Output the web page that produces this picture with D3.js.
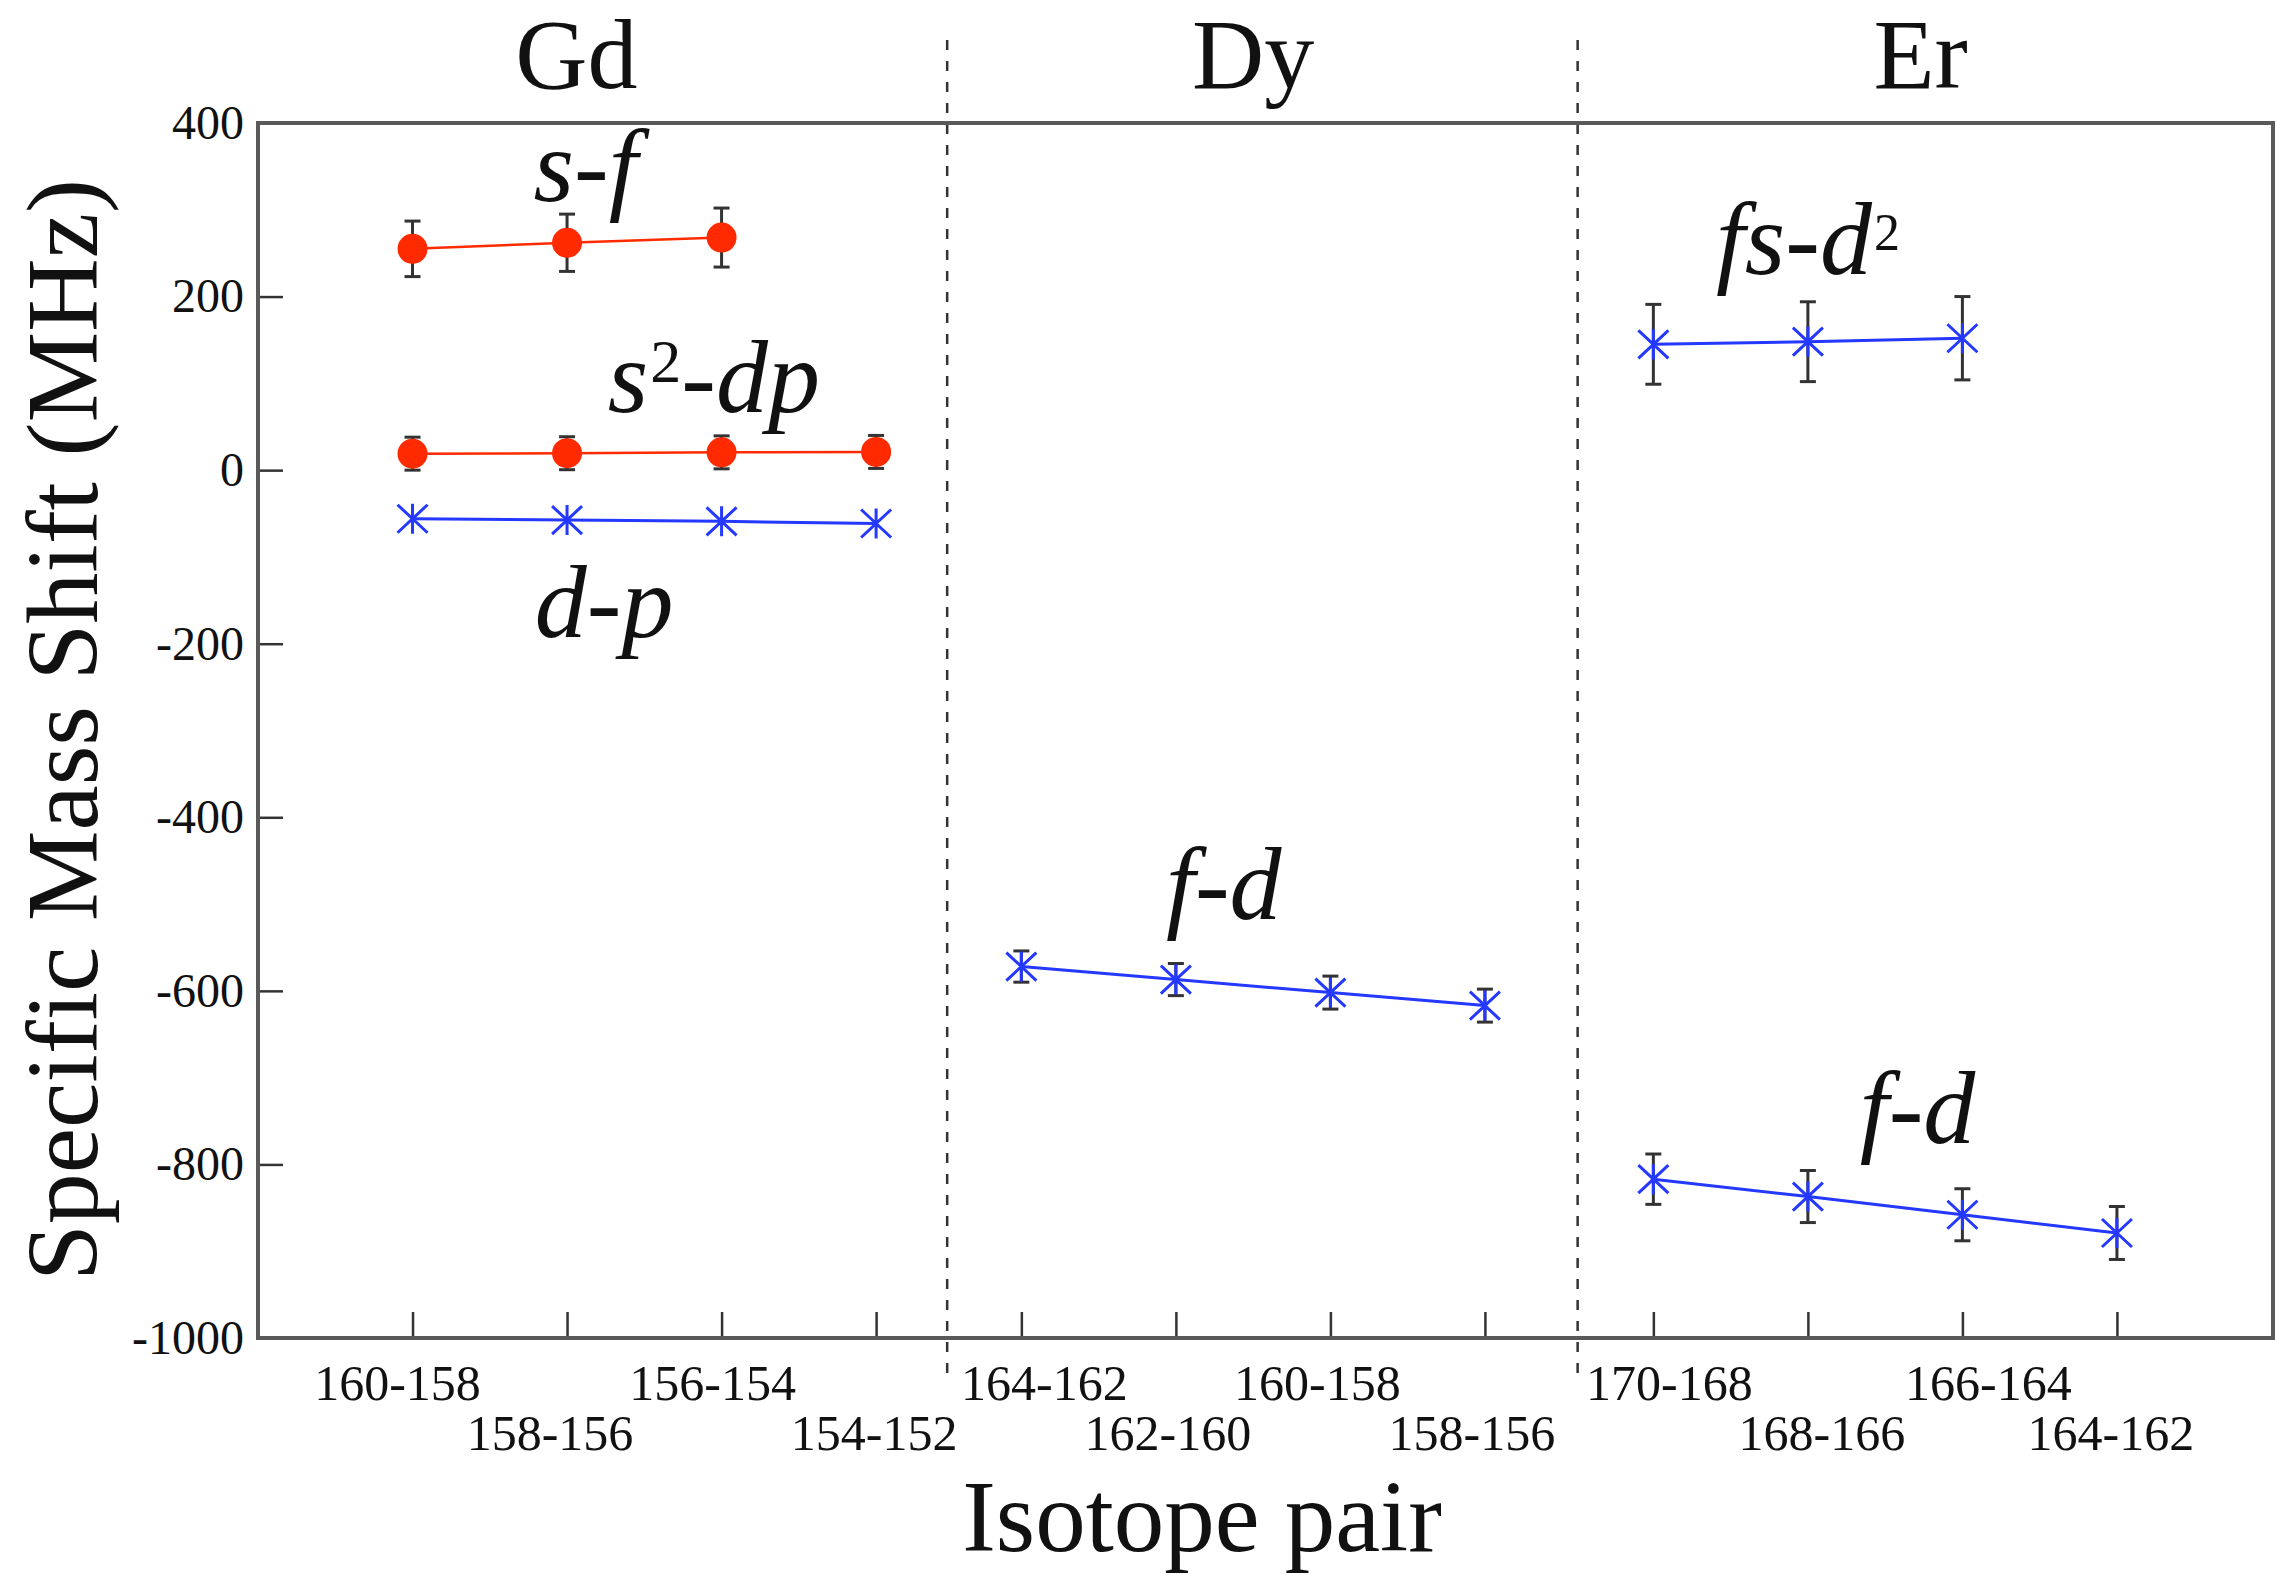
<!DOCTYPE html>
<html><head><meta charset="utf-8">
<script src="https://cdn.jsdelivr.net/npm/d3@7"></script>
<style>
html,body{margin:0;padding:0;background:#fff;}
svg text{font-family:"Liberation Serif","Times New Roman",serif;fill:#111;}
</style></head><body>
<svg id="chart" width="2277" height="1574"></svg>
<script>
// ---------------- data ----------------
const elements = ["Gd", "Dy", "Er"];
const elementX = [2.06, 6.44, 10.76];           // label centres, x data units
const gdPairs = ["160-158", "158-156", "156-154", "154-152"];
const dyPairs = ["164-162", "162-160", "160-158", "158-156"];
const erPairs = ["170-168", "168-166", "166-164", "164-162"];
const gdX = [1, 2, 3, 4];
const dyX = [4.94, 5.94, 6.94, 7.94];
const erX = [9.03, 10.03, 11.03, 12.03];
const dividerX = [4.46, 8.54];
const yTicks = [400, 200, 0, -200, -400, -600, -800, -1000];

const gdSF = [255, 262, 268];            const gdSFErr = [32, 33, 34];
const gdS2DP = [19, 19.5, 20.5, 21];     const gdS2DPErr = [19, 19, 19, 19];
const gdDP = [-56, -57.5, -59, -61.5];
const dyFD = [-572, -587, -602, -617];   const dyFDErr = [18, 18.5, 19, 19];
const erFSD2 = [145, 148, 152];          const erFSD2Err = [46, 46, 48];
const erFD = [-817, -837, -858, -879];   const erFDErr = [29, 30, 30, 30.5];

// ---------------- layout ----------------
const M = {left: 258, right: 2273, top: 123, bottom: 1338};
const RED = "#ff2a00", BLUE = "#2438ff";
const svg = d3.select("#chart");

const x = d3.scaleLinear().domain([0, 13.04]).range([M.left, M.right]);
const y = d3.scaleLinear().domain([-1000, 400]).range([M.bottom, M.top]);

// dashed dividers
svg.selectAll("line.div").data(dividerX).enter().append("line")
  .attr("x1", d => x(d)).attr("x2", d => x(d))
  .attr("y1", 40).attr("y2", 1382)
  .attr("stroke", "#333").attr("stroke-width", 2.5)
  .attr("stroke-dasharray", "10,11");

// y axis
const yAxis = d3.axisLeft(y).tickValues(yTicks).tickSize(-25).tickPadding(14)
  .tickFormat(d => String(d));
const gy = svg.append("g").attr("transform", `translate(${M.left},0)`).call(yAxis);
gy.select(".domain").remove();
gy.selectAll(".tick line").attr("stroke", "#333").attr("stroke-width", 2.5);
gy.selectAll(".tick text").attr("font-size", 48).attr("fill", "#111")
  .style("font-family", "'Liberation Serif', serif");

// x axis (ticks only)
const allX = gdX.concat(dyX, erX);
const allPairs = gdPairs.concat(dyPairs, erPairs);
const xAxis = d3.axisBottom(x).tickValues(allX).tickSize(-26).tickFormat("");
const gx = svg.append("g").attr("transform", `translate(0,${M.bottom})`).call(xAxis);
gx.select(".domain").remove();
gx.selectAll(".tick text").remove();
gx.selectAll(".tick line").attr("stroke", "#333").attr("stroke-width", 2.5);

// staggered tick labels
const labelNudge = [-15, -17, -9, -2, 23, -8, -13, -13, 16, 14, 26, -6];
const rowBase = [1400, 1450];
svg.selectAll("text.pair").data(allPairs).enter().append("text")
  .attr("x", (d, i) => x(allX[i]) + labelNudge[i])
  .attr("y", (d, i) => rowBase[i % 2])
  .attr("text-anchor", "middle").attr("font-size", 50)
  .text(d => d);

// frame
svg.append("rect").attr("x", M.left).attr("y", M.top)
  .attr("width", M.right - M.left).attr("height", M.bottom - M.top)
  .attr("fill", "none").attr("stroke", "#5a5a5a").attr("stroke-width", 4);

// element labels
svg.selectAll("text.el").data(elements).enter().append("text")
  .attr("x", (d, i) => x(elementX[i])).attr("y", 88)
  .attr("text-anchor", "middle").attr("font-size", 100).text(d => d);

// axis titles
svg.append("text").attr("x", 1202).attr("y", 1551).attr("text-anchor", "middle")
  .attr("font-size", 101).text("Isotope pair");
svg.append("text").attr("transform", "translate(97,730) rotate(-90)")
  .attr("text-anchor", "middle").attr("font-size", 102).text("Specific Mass Shift (MHz)");

// series
const series = [
  {xs: gdX.slice(0, 3), ys: gdSF, err: gdSFErr, color: RED, marker: "circle", lw: 2.5},
  {xs: gdX, ys: gdS2DP, err: gdS2DPErr, color: RED, marker: "circle", lw: 2.5},
  {xs: gdX, ys: gdDP, err: null, color: BLUE, marker: "star", lw: 3},
  {xs: dyX, ys: dyFD, err: dyFDErr, color: BLUE, marker: "star", lw: 3},
  {xs: erX.slice(0, 3), ys: erFSD2, err: erFSD2Err, color: BLUE, marker: "star", lw: 3},
  {xs: erX, ys: erFD, err: erFDErr, color: BLUE, marker: "star", lw: 3}
];
const line = d3.line().x(d => x(d[0])).y(d => y(d[1]));
const starPath = "M-15,-14L15,14M-15,14L15,-14M0,-15L0,15";

series.forEach(s => {
  const pts = s.xs.map((xv, i) => [xv, s.ys[i], s.err ? s.err[i] : 0]);
  const g = svg.append("g");
  if (s.err) {
    const eb = g.selectAll("g.eb").data(pts).enter().append("g")
      .attr("stroke", "#333").attr("stroke-width", 3);
    eb.append("line").attr("x1", d => x(d[0])).attr("x2", d => x(d[0]))
      .attr("y1", d => y(d[1] - d[2])).attr("y2", d => y(d[1] + d[2]));
    eb.append("line").attr("x1", d => x(d[0]) - 8).attr("x2", d => x(d[0]) + 8)
      .attr("y1", d => y(d[1] - d[2])).attr("y2", d => y(d[1] - d[2]));
    eb.append("line").attr("x1", d => x(d[0]) - 8).attr("x2", d => x(d[0]) + 8)
      .attr("y1", d => y(d[1] + d[2])).attr("y2", d => y(d[1] + d[2]));
  }
  g.append("path").datum(pts).attr("d", line).attr("fill", "none")
    .attr("stroke", s.color).attr("stroke-width", s.lw);
  if (s.marker === "circle") {
    g.selectAll("circle").data(pts).enter().append("circle")
      .attr("cx", d => x(d[0])).attr("cy", d => y(d[1])).attr("r", 15)
      .attr("fill", s.color);
  } else {
    g.selectAll("path.star").data(pts).enter().append("path")
      .attr("d", starPath).attr("transform", d => `translate(${x(d[0])},${y(d[1])})`)
      .attr("fill", "none").attr("stroke", s.color).attr("stroke-width", 3);
  }
});

// annotations
const annotations = [
  {parts: [["s", 0], ["-f", 0]], ax: 2.12, ay: 310},
  {parts: [["s", 0], ["2", 1], ["-dp", 0]], ax: 2.95, ay: 67},
  {parts: [["d-p", 0]], ax: 2.24, ay: -192},
  {parts: [["fs-d", 0], ["2", 2]], ax: 10.03, ay: 226},
  {parts: [["f-d", 0]], ax: 6.25, ay: -517},
  {parts: [["f-d", 0]], ax: 10.74, ay: -775}
];
annotations.forEach(a => {
  const t = svg.append("text").attr("x", x(a.ax)).attr("y", y(a.ay))
    .attr("text-anchor", "middle").attr("font-size", 104);
  let shifted = false;
  a.parts.forEach(p => {
    const ts = t.append("tspan").text(p[0]);
    if (p[1] === 0) {
      ts.attr("font-style", "italic");
      if (shifted) { ts.attr("dy", 30); shifted = false; }
    } else {
      ts.attr("font-size", p[1] === 1 ? 62 : 52).attr("dy", p[1] === 1 ? -30 : -24).attr("dx", 2);
      shifted = true;
    }
  });
});
</script>
</body></html>
